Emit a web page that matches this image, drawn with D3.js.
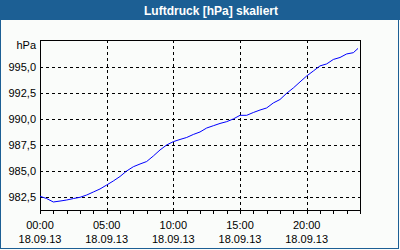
<!DOCTYPE html>
<html><head><meta charset="utf-8">
<script src="https://cdn.jsdelivr.net/npm/d3@7"></script>
<style>html,body{margin:0;padding:0;background:#fafcfa;}svg{display:block;}</style>
</head><body>
<svg id="c" width="400" height="250"></svg>
<script>
const title = "Luftdruck [hPa] skaliert";
const unitLabel = "hPa";
const hours = [0,0.5,1,1.5,2,2.5,3,3.5,4,4.5,5,5.5,6,6.5,7,7.5,8,8.5,9,9.5,10,10.5,11,11.5,12,12.5,13,13.5,14,14.5,15,15.5,16,16.5,17,17.5,18,18.5,19,19.5,20,20.5,21,21.5,22,22.5,23,23.5,23.85];
const pressure = [982.60,982.38,982.05,982.14,982.24,982.38,982.50,982.72,983.01,983.30,983.68,984.07,984.50,985.03,985.44,985.70,985.94,986.47,987.05,987.53,987.85,988.06,988.25,988.54,988.78,989.16,989.38,989.60,989.77,990.03,990.38,990.38,990.65,990.89,991.09,991.57,991.90,992.50,993.01,993.59,994.16,994.64,995.13,995.32,995.75,995.94,996.28,996.40,996.81];
const yTicks = [982.5,985.0,987.5,990.0,992.5,995.0];
const xTicks = [0,5,10,15,20];
const xTimeLabels = ["00:00","05:00","10:00","15:00","20:00"];
const xDateLabels = ["18.09.13","18.09.13","18.09.13","18.09.13","18.09.13"];
const minorHours = d3.range(0,25,1);

const svg = d3.select("#c");
const L=40,T=40,R=360,B=210;
const x = d3.scaleLinear().domain([0,24]).range([L,R]);
const y = d3.scaleLinear().domain([981.28,997.62]).range([B,T]);
const font = "'Liberation Sans', Arial, sans-serif";

svg.append("rect").attr("x",0).attr("y",0).attr("width",400).attr("height",250).attr("fill","#fafcfa");
svg.append("rect").attr("x",0).attr("y",0).attr("width",400).attr("height",20).attr("fill","#1c5f94");
svg.append("rect").attr("x",0.5).attr("y",0.5).attr("width",398).attr("height",248).attr("fill","none").attr("stroke","#1c5f94").attr("stroke-width",1);
svg.append("text").attr("x",211).attr("y",14.5).attr("text-anchor","middle").attr("fill","#fff")
  .attr("font-family",font).attr("font-weight","bold").attr("font-size","12px").text(title);

// grid
const g = svg.append("g").attr("shape-rendering","crispEdges");
g.selectAll("line.hg").data(yTicks).enter().append("line")
  .attr("x1",L).attr("x2",R).attr("y1",d=>Math.round(y(d))+0.5).attr("y2",d=>Math.round(y(d))+0.5)
  .attr("stroke","#000").attr("stroke-dasharray","3,3");
g.selectAll("line.vg").data(xTicks.slice(1)).enter().append("line")
  .attr("y1",T).attr("y2",B).attr("x1",d=>Math.round(x(d))+0.5).attr("x2",d=>Math.round(x(d))+0.5)
  .attr("stroke","#000").attr("stroke-dasharray","3,3");

// minor ticks
g.selectAll("line.mt").data(minorHours).enter().append("line")
  .attr("x1",d=>Math.round(x(d))+0.5).attr("x2",d=>Math.round(x(d))+0.5).attr("y1",B).attr("y2",B+4)
  .attr("stroke","#000");

// box
g.append("rect").attr("x",L+0.5).attr("y",T+0.5).attr("width",R-L).attr("height",B-T)
  .attr("fill","none").attr("stroke","#000");

// line
const line = d3.line().x((d,i)=>x(hours[i])).y(d=>y(d));
svg.append("path").datum(pressure).attr("d",line).attr("fill","none").attr("stroke","#0000ff").attr("stroke-width",1);

// y labels
svg.selectAll("text.yl").data(yTicks).enter().append("text")
  .attr("x",36).attr("y",d=>y(d)+4).attr("text-anchor","end").attr("font-family",font).attr("font-size","11px").attr("fill","#000")
  .text(d=>d3.format(".1f")(d).replace(".",","));
svg.append("text").attr("x",36).attr("y",49).attr("text-anchor","end").attr("font-family",font).attr("font-size","11px").text(unitLabel);

// x labels
svg.selectAll("text.xt").data(xTicks).enter().append("text")
  .attr("x",d=>x(d)).attr("y",229).attr("text-anchor","middle").attr("font-family",font).attr("font-size","11px")
  .text((d,i)=>xTimeLabels[i]);
svg.selectAll("text.xd").data(xTicks).enter().append("text")
  .attr("x",d=>x(d)).attr("y",243).attr("text-anchor","middle").attr("font-family",font).attr("font-size","11px")
  .text((d,i)=>xDateLabels[i]);
</script>
</body></html>
